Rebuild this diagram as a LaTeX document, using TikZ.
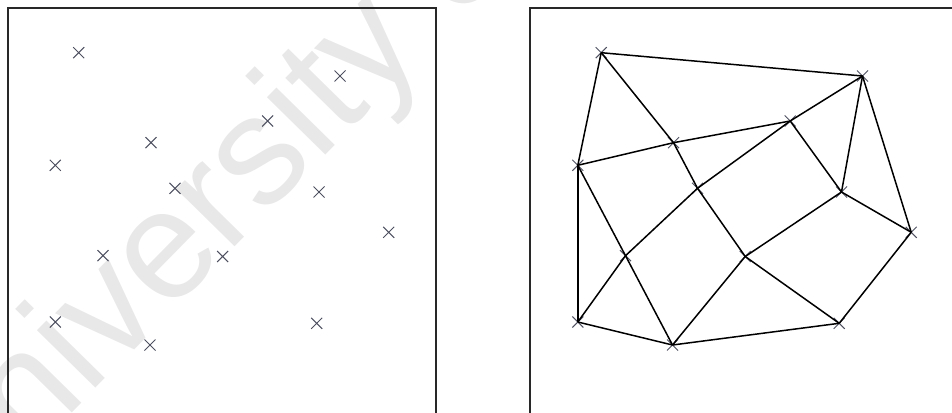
\documentclass[tikz,border=0pt]{standalone}
\usepackage{fontspec}
\newfontfamily\wmfont{Liberation Sans}
\usetikzlibrary{shapes.misc}
\definecolor{wmgray}{gray}{0.91}
\definecolor{mk}{RGB}{78,80,96}
\definecolor{fr}{RGB}{40,40,40}
\tikzset{
  xmark/.style={cross out, draw=mk, line width=1pt, minimum size=11pt, inner sep=0pt, outer sep=0pt},
  edge/.style={line width=1.5pt, draw=black},
  framebox/.style={draw=fr, line width=1.2pt}
}
\begin{document}
\begin{tikzpicture}[x=1pt,y=-1pt]
\useasboundingbox (0,0) rectangle (952,412);
\clip (0,0) rectangle (952,412);
% watermark
\node[rotate=45.5, anchor=base west, inner sep=0pt, text=wmgray,
      font=\wmfont\fontsize{155}{155}\selectfont] (wmk) at (-50,537) {University of};
% frames
\draw[framebox] (8,8) rectangle (436,440);
\draw[framebox] (530,8) rectangle (958,440);
% left panel: points
\begin{scope}
\node[xmark] (lA) at (78.7,52.7) {};
\node[xmark] (lB) at (340,76) {};
\node[xmark] (lC) at (267.7,121) {};
\node[xmark] (lD) at (151,142.7) {};
\node[xmark] (lE) at (55.3,165.3) {};
\node[xmark] (lF) at (175,188.3) {};
\node[xmark] (lG) at (319,192) {};
\node[xmark] (lH) at (388.7,232.3) {};
\node[xmark] (lI) at (103,255.7) {};
\node[xmark] (lJ) at (222.7,256.5) {};
\node[xmark] (lK) at (55.3,322) {};
\node[xmark] (lL) at (316.7,323.3) {};
\node[xmark] (lM) at (150,345) {};
\end{scope}
% right panel: points and edges
\begin{scope}[xshift=522.5pt]
\node[xmark] (rA) at (78.7,52.7) {};
\node[xmark] (rB) at (340,76) {};
\node[xmark] (rC) at (267.7,121) {};
\node[xmark] (rD) at (151,142.7) {};
\node[xmark] (rE) at (55.3,165.3) {};
\node[xmark] (rF) at (175,188.3) {};
\node[xmark] (rG) at (319,192) {};
\node[xmark] (rH) at (388.7,232.3) {};
\node[xmark] (rI) at (103,255.7) {};
\node[xmark] (rJ) at (222.7,256.5) {};
\node[xmark] (rK) at (55.3,322) {};
\node[xmark] (rL) at (316.7,323.3) {};
\node[xmark] (rM) at (150,345) {};
\end{scope}
\foreach \a/\b in {A/B, A/E, A/D, B/C, B/G, B/H, E/D, D/C, C/F, F/I, I/K, D/F,
                   F/J, J/L, C/G, G/J, G/H, H/L, E/K, E/I, I/M, K/M, M/L, J/M}
  \draw[edge, line join=round] (r\a.center) -- (r\b.center);
\end{tikzpicture}
\end{document}
